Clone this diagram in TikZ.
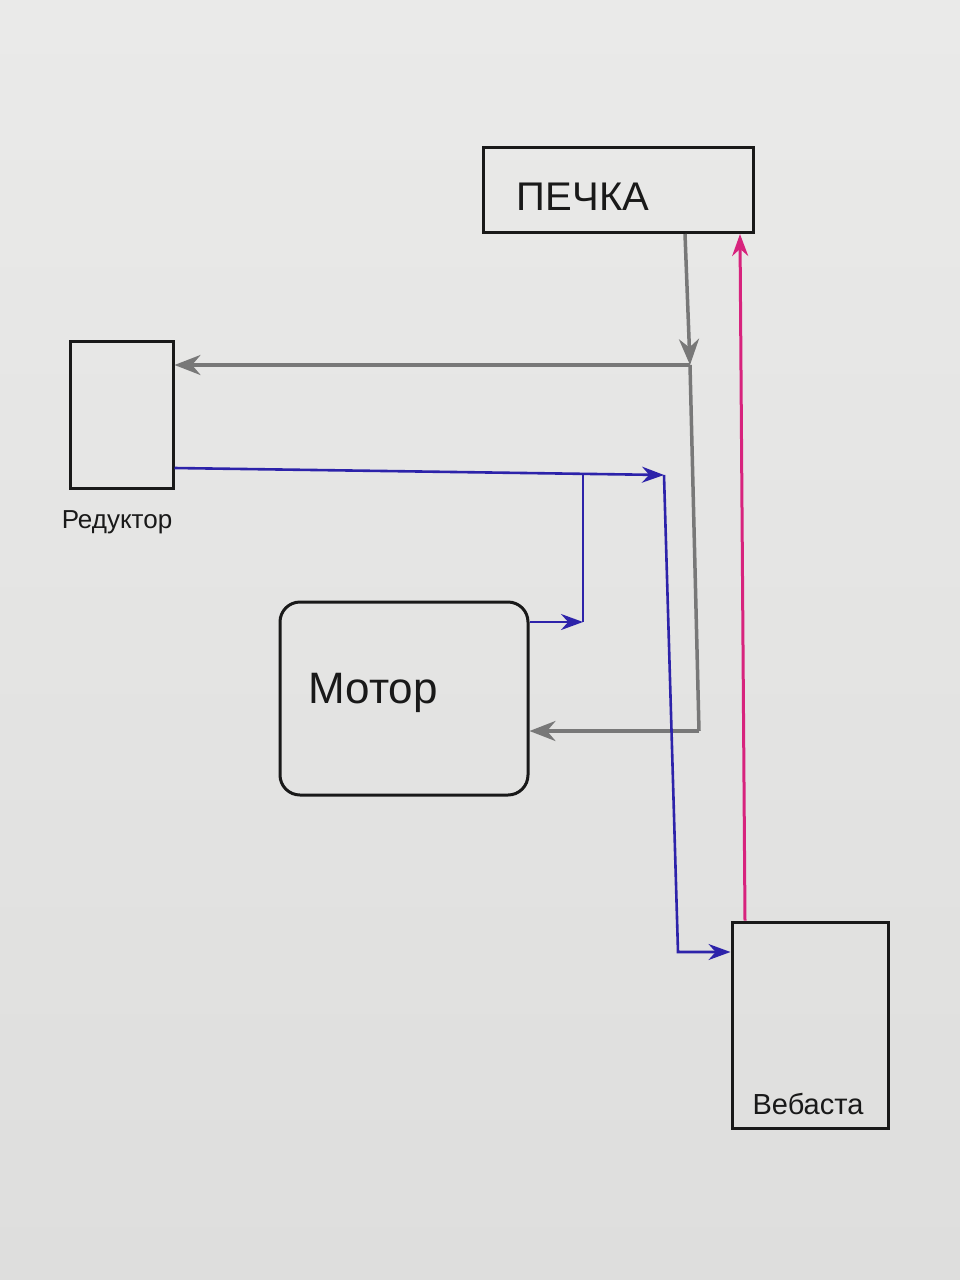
\documentclass[tikz,border=0pt]{standalone}
\usepackage{fontspec}
\setmainfont{Liberation Sans}
\usetikzlibrary{arrows.meta}
\definecolor{papertop}{RGB}{234,234,233}
\definecolor{paperbot}{RGB}{222,222,221}
\definecolor{pencil}{RGB}{120,120,120}
\definecolor{ink}{RGB}{45,35,170}
\definecolor{pinkink}{RGB}{215,35,125}
\definecolor{pen}{RGB}{25,25,25}
\begin{document}
\begin{tikzpicture}[x=1pt,y=-1pt,
  box/.style={draw=pen, line width=3pt, inner sep=0pt},
  lbl/.style={text=pen, inner sep=0pt},
  graywire/.style={draw=pencil, line width=3.5pt},
  bluewire/.style={draw=ink, line width=2.6pt},
  pinkwire/.style={draw=pinkink, line width=3pt},
  gtip/.style={-{Stealth[length=26pt,width=20pt]}},
  btip/.style={-{Stealth[length=22pt,width=16pt]}}]
\shade[top color=papertop, bottom color=paperbot] (0,0) rectangle (960,1280);
\useasboundingbox (0,0) rectangle (960,1280);

% boxes
\node[box, minimum width=270pt, minimum height=85pt] (pechka) at (618,190) {};
\node[lbl, font=\fontsize{40}{40}\selectfont] (pechkaT) at (583,197) {ПЕЧКА};
\node[box, minimum width=103pt, minimum height=147pt] (reduktor) at (121.5,414.5) {};
\node[lbl, font=\fontsize{26}{26}\selectfont] (reduktorT) at (117,522) {Редуктор};
\node[box, rounded corners=20pt, minimum width=248pt, minimum height=193pt] (motor) at (404,698.5) {};
\node[lbl, font=\fontsize{44}{44}\selectfont] (motorT) at (373,693) {Мотор};
\node[box, minimum width=156pt, minimum height=206pt] (vebasta) at (810,1025) {};
\node[lbl, font=\fontsize{29}{29}\selectfont] (vebastaT) at (808,1104) {Вебаста};

% junction coordinates
\coordinate (gj) at (690,365);
\coordinate (gc) at (699,731);
\coordinate (bj) at (664,475);
\coordinate (bm) at (583,622);
\coordinate (bc) at (678,952);

% gray (pencil) lines
\draw[graywire, gtip] (pechka.south -| 685,0) -- (gj);
\draw[graywire, gtip] (gj) -- (gj -| reduktor.east);
\draw[graywire] (gj) -- (gc);
\draw[graywire, gtip] (gc) -- (gc -| motor.east);

% blue lines
\draw[bluewire, btip] (reduktor.east |- 0,468) -- (bj);
\draw[bluewire, btip] (motor.east |- bm) -- (bm);
\draw[bluewire] (bm) -- (bm |- bj);
\draw[bluewire, btip] (bj) -- (bc) -- (bc -| vebasta.west);

% pink line
\draw[pinkwire, btip] (vebasta.north -| 745,0) -- (pechka.south -| 740,0);
\end{tikzpicture}
\end{document}
